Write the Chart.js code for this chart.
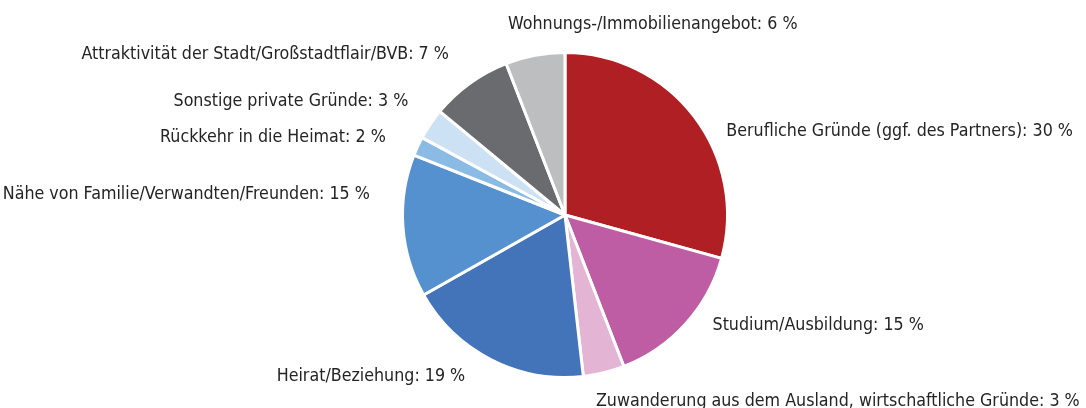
<!DOCTYPE html>
<html>
<head>
<meta charset="utf-8">
<script src="https://cdn.jsdelivr.net/npm/chart.js@4/dist/chart.umd.min.js"></script>
<style>
  html, body { margin: 0; padding: 0; background: #fff; }
  #wrap { width: 1086px; height: 408px; }
</style>
</head>
<body>
<div id="wrap"><canvas id="pieChart" width="1086" height="408"></canvas></div>
<script>
const categories = [
  "Berufliche Gründe (ggf. des Partners)",
  "Studium/Ausbildung",
  "Zuwanderung aus dem Ausland, wirtschaftliche Gründe",
  "Heirat/Beziehung",
  "Nähe von Familie/Verwandten/Freunden",
  "Rückkehr in die Heimat",
  "Sonstige private Gründe",
  "Attraktivität der Stadt/Großstadtflair/BVB",
  "Wohnungs-/Immobilienangebot"
];
// slice sizes
const shares = [29.3, 14.8, 4.1, 18.6, 14.2, 1.9, 3.1, 8.1, 5.9];
// percentages printed in the labels
const labelPercents = [30, 15, 3, 19, 15, 2, 3, 7, 6];

const colors = [
  "#b01f24", "#be5da4", "#e4b4d4", "#4373b8", "#5591ce",
  "#8abbe4", "#cde1f5", "#6a6b6f", "#bdbec0"
];

// where each label sits relative to the outer edge of its slice
const labelPlace = [
  { dx: 32, dy: 15, align: "left" },
  { dx: 27, dy: 1, align: "left" },
  { dx: -8, dy: 29, align: "left" },
  { dx: -26, dy: 17, align: "right" },
  { dx: -33, dy: -32, align: "right" },
  { dx: -32, dy: -9, align: "right" },
  { dx: -22, dy: -23, align: "right" },
  { dx: -21, dy: -29, align: "right" },
  { dx: -27, dy: -31, align: "left" }
];

const labelFont = "17.7px 'Liberation Sans Narrow', 'DejaVu Sans Condensed', sans-serif";

const outsideLabels = {
  id: "outsideLabels",
  afterDatasetsDraw(chart) {
    const ctx = chart.ctx;
    const meta = chart.getDatasetMeta(0);
    ctx.save();
    ctx.font = labelFont;
    ctx.fillStyle = "#242424";
    ctx.textBaseline = "middle";
    meta.data.forEach((arc, i) => {
      const mid = (arc.startAngle + arc.endAngle) / 2;
      const x = arc.x + Math.cos(mid) * arc.outerRadius;
      const y = arc.y + Math.sin(mid) * arc.outerRadius;
      const p = labelPlace[i];
      ctx.textAlign = p.align;
      ctx.fillText(categories[i] + ": " + labelPercents[i] + " %", x + p.dx, y + p.dy);
    });
    ctx.restore();
  }
};

new Chart(document.getElementById("pieChart"), {
  type: "pie",
  data: {
    labels: categories,
    datasets: [
      {
        data: shares,
        backgroundColor: colors,
        borderColor: "#ffffff",
        borderWidth: 3
      }
    ]
  },
  options: {
    responsive: false,
    animation: false,
    layout: { padding: { top: 51, bottom: 29, left: 401, right: 357 } },
    plugins: {
      legend: { display: false },
      tooltip: { enabled: false }
    }
  },
  plugins: [outsideLabels]
});
</script>
</body>
</html>
